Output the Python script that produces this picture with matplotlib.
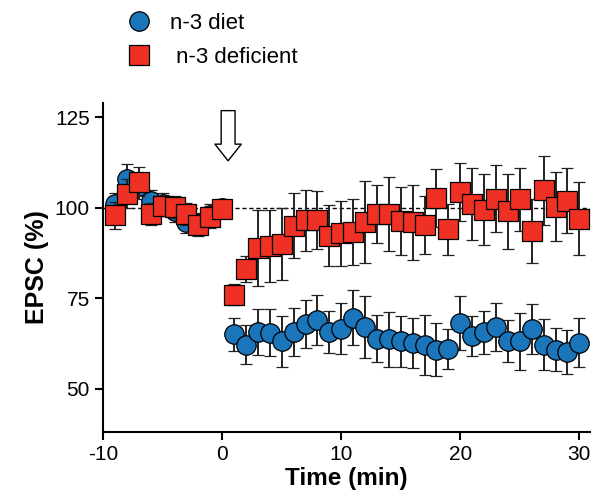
import numpy as np
import matplotlib
matplotlib.use("Agg")
import matplotlib.pyplot as plt
from matplotlib.lines import Line2D

plt.rcParams["font.family"] = ["Liberation Sans", "DejaVu Sans"]
plt.rcParams["axes.unicode_minus"] = False

# time points (min)
t = np.array([-9, -8, -7, -6, -5, -4, -3, -2, -1, 0,
              1, 2, 3, 4, 5, 6, 7, 8, 9, 10,
              11, 12, 13, 14, 15, 16, 17, 18, 19, 20,
              21, 22, 23, 24, 25, 26, 27, 28, 29, 30])

# n-3 diet (blue circles), mean and SEM
diet_mean = np.array([101, 108, 106, 102, 101, 99, 96, 95.5, 98, 100,
                      65, 62.2, 65.6, 65.5, 63.1, 65.6, 67.8, 69, 65.6, 66.6,
                      69.6, 67.1, 63.8, 63.6, 63.1, 62.7, 62.2, 60.8, 61, 68.2,
                      64.5, 65.6, 67.1, 63.1, 63.1, 66.6, 62.2, 60.8, 60.1, 62.7])
diet_sem = np.array([3, 4, 3.5, 3, 3, 3, 3, 3, 3, 2.5,
                     4.5, 5.5, 6.3, 6.5, 7, 6.7, 6.6, 6.8, 5.8, 7,
                     7.6, 8.6, 6.5, 7.6, 7, 6.9, 8.3, 7.3, 5.6, 7.5,
                     5.5, 6, 6.7, 5.8, 7.8, 6.9, 7, 6, 6, 6.8])

# n-3 deficient (red squares), mean and SEM
def_mean = np.array([97.9, 103.9, 107.2, 98.3, 100.6, 100.3, 98.3, 95.1, 97.5, 99.7,
                     76, 83, 89, 89.5, 90, 95, 96.5, 96.5, 92.3, 93,
                     93.3, 96.1, 98.3, 98.3, 96.4, 96, 95.2, 102.8, 94, 104.3,
                     101, 99.5, 102.5, 99, 102.3, 93.5, 104.8, 100.3, 102, 97])
def_sem = np.array([3.7, 4, 4, 3, 3, 3, 3, 3, 3, 2.5,
                    3, 3.6, 10.5, 10, 10, 9, 8.5, 8, 8.5, 9,
                    9, 11.3, 8, 10.3, 9.4, 10.3, 8, 8, 7, 8,
                    10, 9.7, 9.3, 10.4, 8.8, 8.8, 9.6, 9.5, 9, 10])

blue = "#1b75bb"
red = "#ee3124"

fig = plt.figure(figsize=(5.96, 4.99), dpi=100)
ax = fig.add_axes([0.173, 0.134, 0.817, 0.66])

ax.axhline(100, color="black", lw=1, ls=(0, (3, 2)), zorder=1)

ax.errorbar(t, diet_mean, yerr=diet_sem, fmt="o", ms=14, mfc=blue, mec="black",
            mew=0.9, ecolor="#222222", elinewidth=1.4, capsize=4, capthick=1.4, zorder=2)
ax.errorbar(t, def_mean, yerr=def_sem, fmt="s", ms=14, mfc=red, mec="black",
            mew=0.9, ecolor="#222222", elinewidth=1.4, capsize=4, capthick=1.4, zorder=3)

# drug application arrow
ax.annotate("", xy=(0.5, 112.2), xytext=(0.5, 127.6),
            arrowprops=dict(arrowstyle="simple,head_length=1.2,head_width=1.9,tail_width=1.0",
                            fc="white", ec="black", lw=1),
            annotation_clip=False, zorder=5)

ax.set_xlim(-10, 30.9)
ax.set_ylim(38, 129)
ax.set_xticks([-10, 0, 10, 20, 30])
ax.set_yticks([50, 75, 100, 125])
ax.spines["top"].set_visible(False)
ax.spines["right"].set_visible(False)
ax.spines["left"].set_linewidth(1.5)
ax.spines["bottom"].set_linewidth(1.5)
ax.tick_params(direction="out", length=6, width=1.5, labelsize=15)
ax.set_xlabel("Time (min)", fontsize=17.5, fontweight="bold", labelpad=2)
ax.set_ylabel("EPSC (%)", fontsize=18, fontweight="bold", labelpad=4)

handles = [Line2D([], [], ls="none", marker="o", ms=14, mfc=blue, mec="black", mew=0.9),
           Line2D([], [], ls="none", marker="s", ms=14, mfc=red, mec="black", mew=0.9)]
fig.legend(handles, ["n-3 diet", " n-3 deficient"], loc="upper left",
           bbox_to_anchor=(0.162, 1.015), frameon=False, fontsize=16,
           labelspacing=0.6, handletextpad=0.4)

fig.savefig("out.png", dpi=100)
